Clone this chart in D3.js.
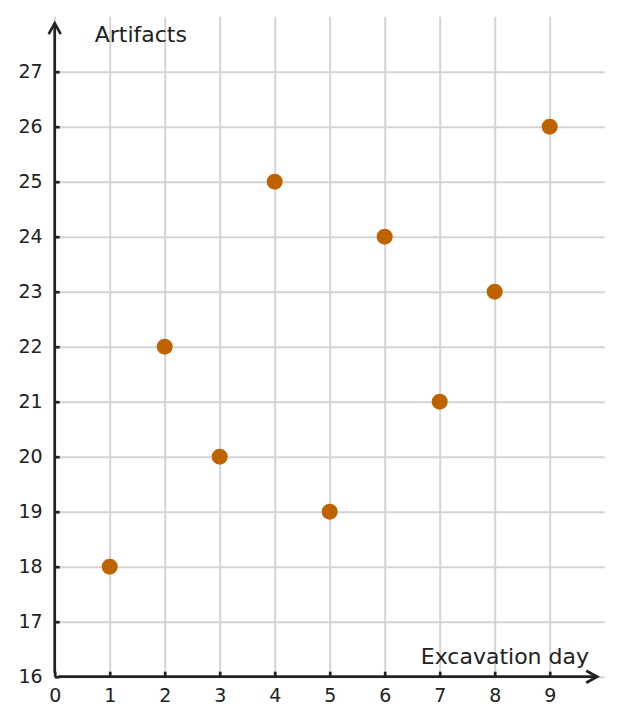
<!DOCTYPE html>
<html>
<head>
<meta charset="utf-8">
<script src="https://cdn.jsdelivr.net/npm/d3@7"></script>
<style>
  body { margin: 0; background: #fff; }
  text { font-family: "DejaVu Sans", sans-serif; fill: #222; }
</style>
</head>
<body>
<div id="chart"></div>
<script>
// data
var days = [1, 2, 3, 4, 5, 6, 7, 8, 9];
var artifacts = [18, 22, 20, 25, 19, 24, 21, 23, 26];
var xTicks = [0, 1, 2, 3, 4, 5, 6, 7, 8, 9];
var yTicks = [16, 17, 18, 19, 20, 21, 22, 23, 24, 25, 26, 27];

var W = 621, H = 725;
var margin = {top: 16.7, right: 16.3, bottom: 48.3, left: 54.7};
var width = W - margin.left - margin.right;
var height = H - margin.top - margin.bottom;

var svg = d3.select("#chart")
    .append("svg")
    .attr("width", W)
    .attr("height", H)
    .append("g")
    .attr("transform", "translate(" + margin.left + "," + margin.top + ")");

var xScale = d3.scaleLinear().domain([0, 10]).range([0, width]);
var yScale = d3.scaleLinear().domain([16, 28]).range([height, 0]);

// grid
svg.append("g")
    .attr("class", "grid")
    .attr("transform", "translate(0," + height + ")")
    .call(d3.axisBottom(xScale).tickValues(xTicks).tickSize(-height).tickFormat(""));

svg.append("g")
    .attr("class", "grid")
    .call(d3.axisLeft(yScale).tickValues(yTicks).tickSize(-width).tickFormat(""));

svg.selectAll(".grid .domain").remove();
svg.selectAll(".grid line").attr("stroke", "#d4d4d4").attr("stroke-width", 2);

// axes (ticks pointing inward)
var xAxis = svg.append("g")
    .attr("transform", "translate(0," + height + ")")
    .call(d3.axisBottom(xScale).tickValues(xTicks).tickSize(-5).tickPadding(12));

var yAxis = svg.append("g")
    .call(d3.axisLeft(yScale).tickValues(yTicks).tickSize(-5).tickPadding(12));

[xAxis, yAxis].forEach(function(a) {
    a.select(".domain").remove();
    a.selectAll("line").attr("stroke", "#222").attr("stroke-width", 2.7);
    a.selectAll("text").style("font-size", "19px").attr("fill", "#222");
});

// axis lines with open arrowheads
svg.append("path")
    .attr("d", "M0," + (height - 4) + "V6.5")
    .attr("fill", "none").attr("stroke", "#222").attr("stroke-width", 2.7);
svg.append("path")
    .attr("d", "M-6,17.5L0,6.5L6,17.5")
    .attr("fill", "none").attr("stroke", "#222").attr("stroke-width", 2.7);

svg.append("path")
    .attr("d", "M4," + height + "H" + (width - 7.5))
    .attr("fill", "none").attr("stroke", "#222").attr("stroke-width", 2.7);
svg.append("path")
    .attr("d", "M" + (width - 18.5) + "," + (height - 6) + "L" + (width - 7.5) + "," + height + "L" + (width - 18.5) + "," + (height + 6))
    .attr("fill", "none").attr("stroke", "#222").attr("stroke-width", 2.7);

// axis titles
svg.append("text")
    .attr("x", 40)
    .attr("y", 42 - margin.top)
    .style("font-size", "22px")
    .text("Artifacts");

svg.append("text")
    .attr("x", 589 - margin.left)
    .attr("y", 664 - margin.top)
    .style("text-anchor", "end")
    .style("font-size", "22px")
    .text("Excavation day");

// points
for (var i = 0; i < days.length; i++) {
    svg.append("circle")
        .attr("cx", xScale(days[i]))
        .attr("cy", yScale(artifacts[i]))
        .attr("r", 8)
        .attr("fill", "#bf6200");
}
</script>
</body>
</html>
